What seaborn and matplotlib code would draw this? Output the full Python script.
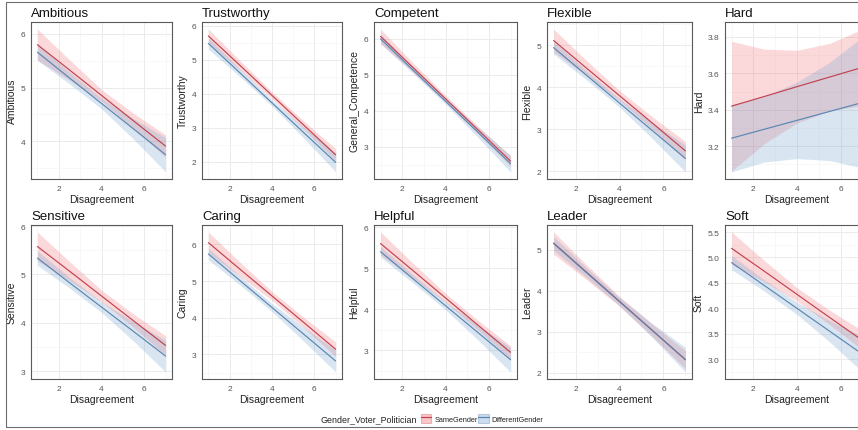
import numpy as np
import pandas as pd
import matplotlib
matplotlib.use("Agg")
import matplotlib.pyplot as plt
import seaborn as sns
from matplotlib.patches import Patch, Rectangle
from matplotlib.lines import Line2D
from matplotlib.ticker import FixedLocator, AutoMinorLocator

# ---------------- data ----------------
TRAITS = ["Ambitious", "Trustworthy", "Competent", "Flexible", "Hard",
          "Sensitive", "Caring", "Helpful", "Leader", "Soft"]
Y_LABELS = ["Ambitious", "Trustworthy", "General_Competence", "Flexible", "Hard",
            "Sensitive", "Caring", "Helpful", "Leader", "Soft"]
GROUPS = ["SameGender", "DifferentGender"]
X_VALUES = [1, 2.5, 4, 5.5, 7]

SAME_FIT = [[5.80, 5.33, 4.855, 4.38, 3.91],
            [5.70, 4.83, 3.955, 3.08, 2.21],
            [6.07, 5.205, 4.34, 3.475, 2.61],
            [5.11, 4.45, 3.795, 3.14, 2.48],
            [3.42, 3.473, 3.527, 3.58, 3.633],
            [5.58, 5.07, 4.555, 4.04, 3.53],
            [6.05, 5.32, 4.595, 3.87, 3.14],
            [5.60, 4.94, 4.275, 3.61, 2.95],
            [5.16, 4.45, 3.74, 3.03, 2.32],
            [5.18, 4.73, 4.275, 3.82, 3.37]]
SAME_HW = [[0.29, 0.19, 0.11, 0.14, 0.21],
           [0.20, 0.14, 0.10, 0.12, 0.18],
           [0.20, 0.13, 0.09, 0.10, 0.15],
           [0.27, 0.18, 0.12, 0.15, 0.22],
           [0.356, 0.26, 0.20, 0.185, 0.21],
           [0.30, 0.20, 0.12, 0.14, 0.20],
           [0.29, 0.19, 0.12, 0.14, 0.20],
           [0.28, 0.18, 0.11, 0.12, 0.16],
           [0.27, 0.18, 0.12, 0.15, 0.22],
           [0.32, 0.21, 0.13, 0.14, 0.19]]
DIFF_FIT = [[5.66, 5.18, 4.705, 4.23, 3.75],
            [5.48, 4.61, 3.735, 2.86, 1.99],
            [6.00, 5.135, 4.27, 3.405, 2.54],
            [4.94, 4.28, 3.62, 2.96, 2.30],
            [3.244, 3.293, 3.342, 3.391, 3.44],
            [5.34, 4.83, 4.325, 3.82, 3.31],
            [5.74, 5.01, 4.28, 3.55, 2.82],
            [5.40, 4.74, 4.085, 3.43, 2.77],
            [5.15, 4.44, 3.735, 3.03, 2.32],
            [4.90, 4.45, 4.00, 3.55, 3.10]]
DIFF_HW = [[0.15, 0.11, 0.10, 0.19, 0.32],
           [0.17, 0.11, 0.09, 0.16, 0.28],
           [0.13, 0.09, 0.08, 0.14, 0.23],
           [0.15, 0.11, 0.10, 0.19, 0.32],
           [0.185, 0.18, 0.21, 0.27, 0.36],
           [0.15, 0.11, 0.11, 0.20, 0.33],
           [0.16, 0.12, 0.11, 0.19, 0.30],
           [0.13, 0.10, 0.10, 0.18, 0.30],
           [0.17, 0.12, 0.10, 0.17, 0.30],
           [0.14, 0.11, 0.12, 0.21, 0.35]]

Y_TICKS = [[4, 5, 6], [2, 3, 4, 5, 6], [3, 4, 5, 6], [2, 3, 4, 5],
           [3.2, 3.4, 3.6, 3.8], [3, 4, 5, 6], [3, 4, 5, 6], [3, 4, 5, 6],
           [2, 3, 4, 5], [3.0, 3.5, 4.0, 4.5, 5.0, 5.5]]
X_TICKS = [2, 4, 6]
LEGEND_TITLE = "Gender_Voter_Politician"
X_LABEL = "Disagreement"

# ---------------- styling ----------------
LINE_COLORS = {"SameGender": "#C2424F", "DifferentGender": "#5B86B3"}
FILL_COLORS = {"SameGender": "#F0545A", "DifferentGender": "#6A9FCF"}
FILL_ALPHA = {"SameGender": 0.22, "DifferentGender": 0.25}

sns.set_theme(style="white")
plt.rcParams["font.family"] = ["Liberation Sans", "DejaVu Sans"]

rows = []
for i, t in enumerate(TRAITS):
    for g, fits, hws in (("SameGender", SAME_FIT, SAME_HW),
                         ("DifferentGender", DIFF_FIT, DIFF_HW)):
        for x, f, h in zip(X_VALUES, fits[i], hws[i]):
            rows.append({"trait": t, "group": g, "Disagreement": x,
                         "fit": f, "lo": f - h, "hi": f + h})
df = pd.DataFrame(rows)

W, H = 858, 431
fig = plt.figure(figsize=(W / 100, H / 100), dpi=100)

COLS = [(31, 172), (202, 342), (374, 517), (547, 692), (725, 869)]
ROWS = [(23, 180), (226, 380)]

def px_axes(l, t, r, b):
    return fig.add_axes([l / W, 1 - b / H, (r - l) / W, (b - t) / H])

for i, t in enumerate(TRAITS):
    r, c = divmod(i, 5)
    l, rr = COLS[c]
    tp, bt = ROWS[r]
    ax = px_axes(l, tp, rr, bt)
    sub = df[df.trait == t]
    for g in GROUPS:
        s = sub[sub.group == g]
        ax.fill_between(s["Disagreement"], s["lo"], s["hi"],
                        color=FILL_COLORS[g], alpha=FILL_ALPHA[g], lw=0, zorder=2)
        sns.lineplot(data=s, x="Disagreement", y="fit", color=LINE_COLORS[g],
                     lw=0.85, ax=ax, legend=False, zorder=3)
    # ggplot-like 5% expansion
    x0, x1 = min(X_VALUES), max(X_VALUES)
    ax.set_xlim(x0 - 0.05 * (x1 - x0), x1 + 0.05 * (x1 - x0))
    ymin, ymax = sub["lo"].min(), sub["hi"].max()
    ax.set_ylim(ymin - 0.05 * (ymax - ymin), ymax + 0.05 * (ymax - ymin))

    ax.xaxis.set_major_locator(FixedLocator(X_TICKS))
    ax.yaxis.set_major_locator(FixedLocator(Y_TICKS[i]))
    ax.xaxis.set_minor_locator(AutoMinorLocator(2))
    ax.yaxis.set_minor_locator(AutoMinorLocator(2))
    if all(float(v).is_integer() for v in Y_TICKS[i]):
        ax.set_yticklabels([f"{v:.0f}" for v in Y_TICKS[i]])
    else:
        ax.set_yticklabels([f"{v:.1f}" for v in Y_TICKS[i]])
    ax.set_xticklabels([str(v) for v in X_TICKS])

    ax.grid(True, which="major", color="#EBEBEB", lw=0.7, zorder=0)
    ax.grid(True, which="minor", color="#F5F5F5", lw=0.45, zorder=0)
    ax.set_axisbelow(True)
    ax.set_facecolor("white")
    for sp in ax.spines.values():
        sp.set_color("#5A5A5A")
        sp.set_linewidth(0.8)
    ax.tick_params(axis="both", which="major", length=2.5, width=0.6,
                   color="#555555", labelsize=6, labelcolor="#555555", pad=1.5)
    ax.tick_params(axis="both", which="minor", length=0)
    ax.set_xlabel(X_LABEL, fontsize=7.5, color="#222222", labelpad=2)
    ax.set_ylabel(Y_LABELS[i], fontsize=7.5, color="#222222", labelpad=3)
    ax.set_title(t, loc="left", fontsize=9.5, color="#111111", pad=4)

# outer frame
fig.add_artist(Rectangle((6 / W, 1 - 428 / H), (900 - 6) / W, (428 - 3) / H,
                         transform=fig.transFigure, fill=False,
                         edgecolor="#6E6E6E", lw=0.8))

# legend
fig.text(417 / W, 1 - 420 / H, LEGEND_TITLE, fontsize=6.4, color="#222222",
         va="center", ha="right")
handles = [(Patch(facecolor=FILL_COLORS[g], alpha=FILL_ALPHA[g] + 0.1,
                  edgecolor=LINE_COLORS[g], lw=0.8),
            Line2D([], [], color=LINE_COLORS[g], lw=0.9)) for g in GROUPS]
fig.legend(handles, GROUPS, loc="center left",
           bbox_to_anchor=(421 / W, 1 - 419.5 / H), ncol=2, frameon=False,
           fontsize=5.3, handlelength=1.4, handleheight=1.7,
           handletextpad=0.4, columnspacing=0.1, borderpad=0, borderaxespad=0,
           labelcolor="#222222")

fig.savefig("out.png", dpi=100)
